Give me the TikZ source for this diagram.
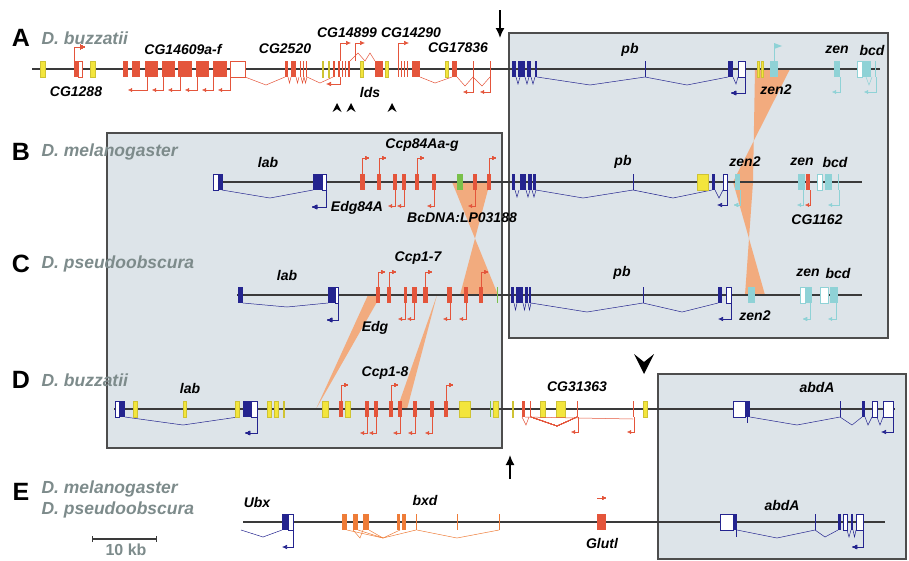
\documentclass[tikz,border=0pt]{standalone}
\usepackage{fontspec}
\setmainfont{Liberation Sans}
\usetikzlibrary{arrows.meta}
\definecolor{boxgray}{HTML}{DDE4E9}
\definecolor{boxedge}{HTML}{4D4D4D}
\definecolor{chrom}{HTML}{3A3A3A}
\definecolor{exred}{HTML}{E4553B}
\definecolor{exyel}{HTML}{F3E53C}
\definecolor{exblue}{HTML}{24248F}
\definecolor{excyan}{HTML}{8FD2D6}
\definecolor{exgreen}{HTML}{79C04A}
\definecolor{exorange}{HTML}{EE7C38}
\definecolor{wedgeor}{HTML}{F2AB7E}
\definecolor{spgray}{HTML}{7D8B8B}
% one exon: style, left x, right x, row y
\def\ex#1#2#3#4{\path[#1] (#2,#4-8) rectangle (#3,#4+8);}
\def\yA{69}
\def\yB{182}
\def\yC{295}
\def\yD{409}
\def\yE{522}
\begin{document}
\begin{tikzpicture}[x=1pt, y=-1pt,
    genome/.style={draw=chrom, line width=1.8pt},
    gbox/.style={fill=boxgray, draw=boxedge, line width=1.1pt},
    wedge/.style={fill=wedgeor},
    exR/.style={fill=exred},
    exY/.style={fill=exyel, draw=exyel!85!black, line width=0.3pt},
    exB/.style={fill=exblue},
    exC/.style={fill=excyan},
    exG/.style={fill=exgreen},
    exO/.style={fill=exorange},
    exW/.style={fill=white, draw=#1, line width=0.6pt},
    intr/.style={draw=#1, line width=0.5pt},
    tss/.style={draw=#1, line width=0.6pt, -{Latex[length=5pt, width=4.5pt]}},
    tssmall/.style={draw=#1, line width=0.4pt, -{Latex[length=4pt, width=4pt]}},
    gene/.style={font=\fontsize{14}{14}\selectfont\bfseries\itshape},
    species/.style={font=\fontsize{17.5}{17.5}\selectfont\bfseries\itshape, text=spgray, anchor=west},
    panel/.style={font=\fontsize{25}{25}\selectfont\bfseries},
    bigarrow/.style={draw=black, line width=1.6pt, -{Latex[length=10pt, width=9pt]}}
]
\useasboundingbox (0,0) rectangle (909,560);

% shaded blocks
\draw[gbox] (509,33) rectangle (888,338);
\draw[gbox] (107,133) rectangle (502,448);
\draw[gbox] (658,374) rectangle (906,559);

% orange links between species
\fill[wedge] (755,\yA) -- (790,\yA) -- (733,\yB) -- (753,\yB) -- cycle;
\fill[wedge] (733,\yB) -- (753,\yB) -- (745,\yC) -- (765,\yC) -- cycle;
\fill[wedge] (452,\yB) -- (490,\yB) -- (460,\yC) -- (498,\yC) -- cycle;
\fill[wedge] (368,\yC) -- (381,\yC) -- (316,\yD) -- cycle;
\fill[wedge] (437,\yC) -- (397,\yD) -- (407,\yD) -- cycle;

% chromosomes
\draw[genome] (32,\yA) -- (880,\yA);
\draw[genome] (215,\yB) -- (862,\yB);
\draw[genome] (237,\yC) -- (862,\yC);
\draw[genome] (114,\yD) -- (895,\yD);
\draw[genome] (243,\yE) -- (885,\yE);

%%% A
\draw[intr=exred] (245,77) -- (266,85) -- (285,77);
\draw[intr=exred] (307,77) -- (320,83) -- (333,77);
\draw[intr=exred] (350,61) -- (358,53) -- (365,61) -- (370,53) -- (375,61);
\draw[intr=exred] (420,77) -- (435,83) -- (452,77);
\draw[intr=exred] (457,77) -- (465,86) -- (473,77) -- (482,86) -- (490,77);
\foreach \x in {288,296,301,304}
    \draw[intr=exred] (\x,77) -- (\x+1.5,83) -- (\x+3,77);
\foreach \a/\b in {40/45, 90/95, 322/323.5, 328/329.5, 360/363, 385/388, 445/448, 757/759, 761/763}
    \ex{exY}{\a}{\b}{\yA}
\foreach \a/\b in {74/78, 123/128, 132/140, 145/158, 162/175, 178/192, 196/209, 213/227, 285/288, 291/296, 300/301, 303/304, 306/307, 333/334.5, 338/340, 342/343, 345/346, 348/350, 375/383, 398/399, 401/402, 404/405, 407/408, 412/420, 452/457, 473/474, 490/491}
    \ex{exR}{\a}{\b}{\yA}
\ex{exW=exred}{78}{82}{\yA}
\ex{exW=exred}{230}{245}{\yA}
\draw[tss=exred] (74,61) |- (85,47);
\foreach \a/\b in {128/147, 152/163, 168/180, 185/197, 202/213, 218/230}
    \draw[tssmall=exred] (\b,77) |- (\a,90);
\draw[tss=exred] (340,77) |- (326,84);
\draw[tss=exred] (340,61) |- (351,43);
\draw[tss=exred] (355,61) |- (365,43);
\draw[tss=exred] (398,61) |- (409,43);
\draw[tssmall=exred] (473,77) |- (463,92);
\draw[tssmall=exred] (490,77) |- (480,92);
% pb, zen2, zen, bcd
\draw[intr=exblue] (537,77) -- (590,85) -- (645,77) -- (687,85) -- (728,77);
\foreach \x in {516,525,531}
    \draw[intr=exblue] (\x,77) -- (\x+2,84) -- (\x+4,77);
\draw[intr=exblue] (733,77) -- (736,84) -- (738,77);
\foreach \a/\b in {512/516, 518/525, 527/531, 535/537, 645/646, 728/733}
    \ex{exB}{\a}{\b}{\yA}
\ex{exW=exblue}{738}{745}{\yA}
\draw[tss=exblue] (745,77) |- (731,93);
\draw[intr=excyan] (866,77) -- (869,85) -- (872,77);
\foreach \a/\b in {770/778, 834/840, 862/871, 875/876}
    \ex{exC}{\a}{\b}{\yA}
\ex{exW=excyan}{857}{862}{\yA}
\draw[intr=excyan] (774,61) -- (774,43);
\fill[excyan] (774,43) -- (782,46) -- (774,49) -- cycle;
\draw[tssmall=excyan] (840,77) |- (832,92);
\draw[tssmall=excyan] (876,77) |- (864,92);

%%% B
\draw[intr=exblue] (222,190) -- (270,198) -- (313,190);
\ex{exW=exblue}{213}{218}{\yB}
\foreach \a/\b in {218/223, 313/322, 512/515, 520/526, 528/532, 533/536, 633/634, 712/715}
    \ex{exB}{\a}{\b}{\yB}
\ex{exW=exblue}{322}{326}{\yB}
\draw[tss=exblue] (326,190) |- (312,207);
\foreach \a/\b in {360/365, 377/381, 393/397, 402/406, 415/419, 432/436, 473/477, 487/491, 806/810}
    \ex{exR}{\a}{\b}{\yB}
\ex{exG}{457}{463}{\yB}
\foreach \x in {362,379,417,489}
    \draw[tssmall=exred] (\x,174) |- (\x+7,158);
\foreach \x in {395,404,434,475}
    \draw[tssmall=exred] (\x,190) |- (\x-7,206);
\draw[intr=exblue] (536,190) -- (583,198) -- (633,190) -- (673,198) -- (712,190);
\foreach \x in {515,526,532}
    \draw[intr=exblue] (\x,190) -- (\x+2,197) -- (\x+4,190);
\draw[intr=exblue] (715,190) -- (719,198) -- (723,190);
\ex{exY}{697}{708}{\yB}
\ex{exW=exblue}{723}{727}{\yB}
\draw[tss=exblue] (727,190) |- (717,205);
\foreach \a/\b in {735/740, 798/805, 825/832, 838/839}
    \ex{exC}{\a}{\b}{\yB}
\ex{exW=excyan}{817}{822}{\yB}
\draw[tssmall=excyan] (740,190) |- (734,205);
\draw[tssmall=excyan] (803,190) |- (797,205);
\draw[tssmall=exred] (810,190) |- (805,205);
\draw[tssmall=excyan] (839,190) |- (828,205);

%%% C
\draw[intr=exblue] (243,303) -- (287,307) -- (328,303);
\foreach \a/\b in {238/243, 328/335, 511/514, 516/523, 525/528, 529/531, 643/644, 718/722}
    \ex{exB}{\a}{\b}{\yC}
\ex{exW=exblue}{335}{338}{\yC}
\draw[tss=exblue] (338,303) |- (327,320);
\foreach \a/\b in {376/380, 387/391, 404/407, 412/417, 423/428, 447/452, 464/468, 479/483}
    \ex{exR}{\a}{\b}{\yC}
\ex{exG}{497}{498}{\yC}
\foreach \x in {378,389,425,481}
    \draw[tssmall=exred] (\x,287) |- (\x+7,272);
\foreach \x in {405,414,450,466}
    \draw[tssmall=exred] (\x,303) |- (\x-7,319);
\draw[intr=exblue] (531,303) -- (587,312) -- (643,303) -- (682,312) -- (718,303);
\foreach \x in {514,523,528}
    \draw[intr=exblue] (\x,303) -- (\x+1.5,310) -- (\x+3,303);
\ex{exW=exblue}{726}{731}{\yC}
\draw[tss=exblue] (731,303) |- (718,319);
\foreach \a/\b in {748/755, 805/812, 830/838}
    \ex{exC}{\a}{\b}{\yC}
\ex{exW=excyan}{800}{805}{\yC}
\ex{exW=excyan}{820}{828}{\yC}
\draw[tssmall=excyan] (810,303) |- (803,319);
\draw[tssmall=excyan] (836,303) |- (828,319);

%%% D
\draw[intr=exblue] (125,417) -- (183,425) -- (238,417);
\ex{exW=exblue}{115}{119}{\yD}
\foreach \a/\b in {120/125, 243/251, 745/750, 840/841, 862/865}
    \ex{exB}{\a}{\b}{\yD}
\ex{exW=exblue}{251}{257}{\yD}
\draw[tss=exblue] (257,417) |- (245,433);
\foreach \a/\b in {133/137, 183/186, 235/239, 267/271, 274/278, 283/284, 322/328, 345/350, 459/470, 493/498, 512/513, 540/545, 556/565, 643/647}
    \ex{exY}{\a}{\b}{\yD}
\ex{exG}{490}{491}{\yD}
\draw[intr=exred] (531,417) -- (557,426) -- (577,417);
\draw[intr=exred] (525,417) -- (633,419);
\draw[intr=exred] (522,417) -- (526,425) -- (529,417);
\foreach \a/\b in {339/343, 365/369, 374/378, 389/393, 398/402, 413/417, 430/434, 444/448, 522/525, 530/531, 577/578, 633/634}
    \ex{exR}{\a}{\b}{\yD}
\foreach \x in {341,391,446}
    \draw[tssmall=exred] (\x,401) |- (\x+7,385);
\foreach \x in {367,376,400,415,432}
    \draw[tssmall=exred] (\x,417) |- (\x-7,433);
\draw[tssmall=exred] (578,417) |- (571,432);
\draw[tssmall=exred] (634,417) |- (627,432);
\draw[intr=exblue] (750,417) -- (797,425) -- (840,417) -- (852,425) -- (862,417);
\draw[intr=exblue] (865,417) -- (868,425) -- (872,417);
\draw[intr=exblue] (877,417) -- (880,425) -- (883,417);
\draw[intr=exblue] (747,417) -- (747,423);
\ex{exW=exblue}{733}{745}{\yD}
\ex{exW=exblue}{872}{877}{\yD}
\ex{exW=exblue}{883}{893}{\yD}
\draw[tss=exblue] (893,417) |- (881,432);

%%% E
\draw[intr=exblue] (241,530) -- (263,537) -- (282,530);
\ex{exB}{282}{288}{\yE}
\ex{exW=exblue}{288}{293}{\yE}
\draw[tss=exblue] (293,530) |- (282,547);
\draw[intr=exorange] (347,530) -- (383,538) -- (416,530);
\draw[intr=exorange] (358,530) -- (383,538) -- (400,530);
\draw[intr=exorange] (369,530) -- (383,538);
\draw[intr=exorange] (353,530) -- (360,538) -- (363,530);
\draw[intr=exorange] (417,530) -- (457,538) -- (499,530);
\foreach \a/\b in {342/347, 353/358, 363/369, 397/400, 402/406, 416/417, 457/458, 499/500}
    \ex{exO}{\a}{\b}{\yE}
\ex{exR}{597}{606}{\yE}
\draw[tssmall=exred] (597,498) -- (606,498);
\draw[intr=exblue] (737,530) -- (777,538) -- (815,530) -- (825,537) -- (838,530);
\draw[intr=exblue] (847,530) -- (849,537) -- (851,530);
\draw[intr=exblue] (853,530) -- (854.5,537) -- (856,530);
\draw[intr=exblue] (736,530) -- (736,537);
\ex{exW=exblue}{720}{733}{\yE}
\foreach \a/\b in {733/737, 815/816, 838/841, 851/853}
    \ex{exB}{\a}{\b}{\yE}
\ex{exW=exblue}{843}{847}{\yE}
\ex{exW=exblue}{856}{863}{\yE}
\draw[tss=exblue] (863,530) |- (852,547);

% markers
\draw[bigarrow] (500,10) -- (500,38);
\draw[bigarrow] (510,479) -- (510,455);
\fill (634,354) -- (644,362) -- (654,354) -- (644,374) -- cycle;
\foreach \x in {337,351,392}
    \fill (\x-4.5,112) -- (\x,103) -- (\x+4.5,112) -- (\x,109) -- cycle;

% scale bar
\draw[draw=chrom, line width=1.2pt, {Bar[width=6pt]}-{Bar[width=6pt]}] (92,539) -- (157,539);
\node[font=\fontsize{16}{16}\selectfont\bfseries, text=spgray] (kb) at (126,550) {10 kb};

% panel letters and species
\node[panel] (pA) at (21,38) {A};
\node[panel] (pB) at (21,152) {B};
\node[panel] (pC) at (21,264) {C};
\node[panel] (pD) at (21,380) {D};
\node[panel] (pE) at (21,492) {E};
\node[species] (spA) at (38,38) {D. buzzatii};
\node[species] (spB) at (38,152) {D. melanogaster};
\node[species] (spC) at (38,264) {D. pseudoobscura};
\node[species] (spD) at (38,380) {D. buzzatii};
\node[species] (spE1) at (38,489) {D. melanogaster};
\node[species] (spE2) at (38,510) {D. pseudoobscura};

% gene names
\node[gene] (gCGa) at (76,92) {CG1288};
\node[gene] (gCGb) at (183,49) {CG14609a-f};
\node[gene] (gCGc) at (285,49) {CG2520};
\node[gene] (gCGd) at (347,33) {CG14899};
\node[gene] (gCGe) at (411,33) {CG14290};
\node[gene] (gCGf) at (458,48) {CG17836};
\node[gene] (glds) at (370,92) {lds};
\node[gene] (gpbA) at (630,50) {pb};
\node[gene] (gzentwoA) at (776,90) {zen2};
\node[gene] (gzenA) at (837,50) {zen};
\node[gene] (gbcdA) at (872,50) {bcd};

\node[gene] (glabB) at (268,162) {lab};
\node[gene] (gCcpB) at (422,145) {Ccp84Aa-g};
\node[gene] (gEdgB) at (357,208) {Edg84A};
\node[gene] (gBc) at (462,218) {BcDNA:LP03188};
\node[gene] (gpbB) at (623,162) {pb};
\node[gene] (gzentwoB) at (745,162) {zen2};
\node[gene] (gzenB) at (802,162) {zen};
\node[gene] (gbcdB) at (835,162) {bcd};
\node[gene] (gCGg) at (817,220) {CG1162};

\node[gene] (glabC) at (287,275) {lab};
\node[gene] (gCcpC) at (418,258) {Ccp1-7};
\node[gene] (gEdgC) at (375,328) {Edg};
\node[gene] (gpbC) at (622,273) {pb};
\node[gene] (gzentwoC) at (755,316) {zen2};
\node[gene] (gzenC) at (808,273) {zen};
\node[gene] (gbcdC) at (838,273) {bcd};

\node[gene] (glabD) at (190,388) {lab};
\node[gene] (gCcpD) at (385,373) {Ccp1-8};
\node[gene] (gCGh) at (577,387) {CG31363};
\node[gene] (gabdD) at (817,387) {abdA};

\node[gene] (gUbx) at (257,502) {Ubx};
\node[gene] (gbxd) at (425,500) {bxd};
\node[gene] (gGlu) at (602,543) {Glutl};
\node[gene] (gabdE) at (782,505) {abdA};
\end{tikzpicture}
\end{document}
